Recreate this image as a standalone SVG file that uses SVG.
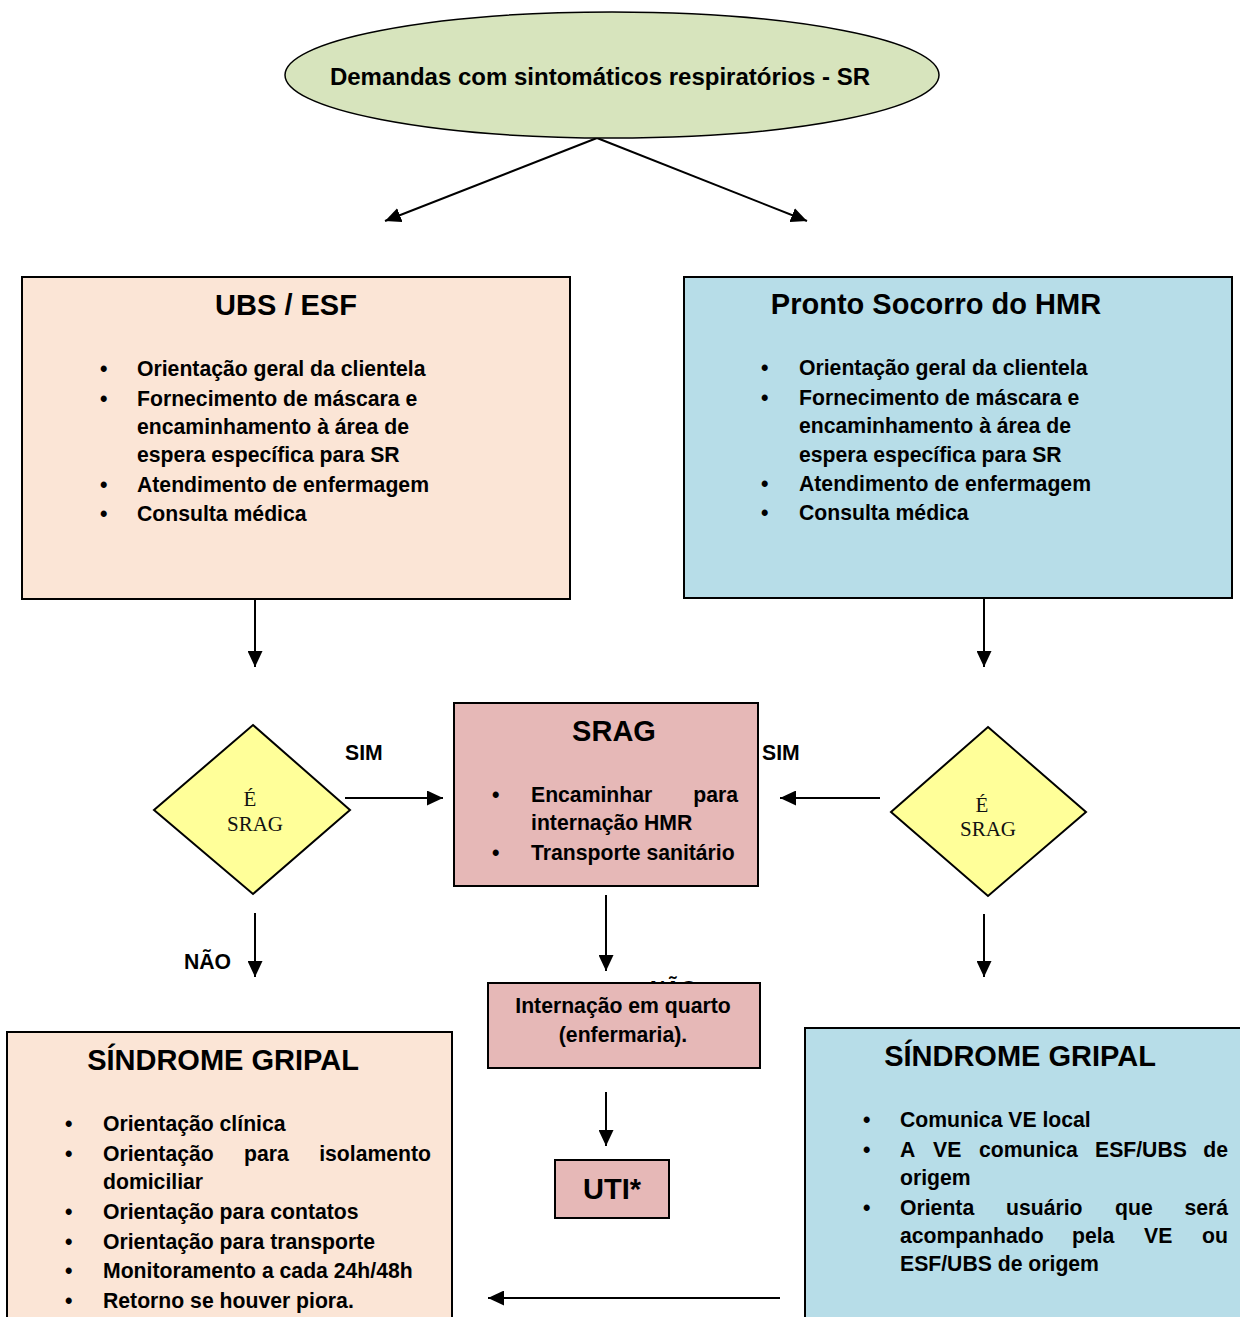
<svg xmlns="http://www.w3.org/2000/svg" width="1240" height="1317" viewBox="0 0 1240 1317">
<defs>
<marker id="ah" viewBox="0 0 16 15" refX="16" refY="7.5" markerWidth="16" markerHeight="15" markerUnits="userSpaceOnUse" orient="auto">
<path d="M0,0 L16,7.5 L0,15 z" fill="#000"/>
</marker>
<clipPath id="cliptop"><rect x="0" y="0" width="1240" height="983"/></clipPath>
<style>
.t{font-family:"Liberation Sans",Arial,sans-serif;font-weight:bold;fill:#000}
.ti{font-size:29px;text-anchor:middle}
.b{font-size:21.2px}
.s{font-family:"Liberation Serif","Times New Roman",serif;font-size:21px;fill:#111;text-anchor:middle}
.box{stroke:#000;stroke-width:2}
.c line{stroke:#000;stroke-width:2;marker-end:url(#ah)}
.e{text-anchor:end}
</style>
</defs>
<rect width="1240" height="1317" fill="#fff"/>

<g id="connectors" class="c">
<line x1="597" y1="138" x2="385" y2="221"/>
<line x1="597" y1="138" x2="807" y2="221"/>
<line x1="255" y1="599" x2="255" y2="667"/>
<line x1="984" y1="598" x2="984" y2="667"/>
<line x1="345" y1="798" x2="443" y2="798"/>
<line x1="880" y1="798" x2="780" y2="798"/>
<line x1="255" y1="913" x2="255" y2="977"/>
<line x1="606" y1="895" x2="606" y2="971"/>
<line x1="984" y1="914" x2="984" y2="977"/>
<line x1="606" y1="1092" x2="606" y2="1146"/>
<line x1="780" y1="1298" x2="488" y2="1298"/>
<text class="t b" x="345" y="760">SIM</text>
<text class="t b" x="762" y="760">SIM</text>
<text class="t b" x="184" y="969">NÃO</text>
<text class="t b" x="650" y="996" clip-path="url(#cliptop)">NÃO</text>
</g>

<g id="inicio">
<ellipse cx="612" cy="75" rx="327" ry="63" fill="#d7e4bd" stroke="#000" stroke-width="1.5"/>
<text class="t" x="600" y="85" font-size="24" text-anchor="middle">Demandas com sintomáticos respiratórios - SR</text>
</g>

<g id="ubs">
<rect class="box" x="22" y="277" width="548" height="322" fill="#fbe5d6"/>
<text class="t ti" x="286" y="315">UBS / ESF</text>
<g class="t b">
<text x="100" y="376">•</text><text x="137" y="376">Orientação geral da clientela</text>
<text x="100" y="406">•</text><text x="137" y="406">Fornecimento de máscara e</text>
<text x="137" y="434">encaminhamento à área de</text>
<text x="137" y="462">espera específica para SR</text>
<text x="100" y="492">•</text><text x="137" y="492">Atendimento de enfermagem</text>
<text x="100" y="521">•</text><text x="137" y="521">Consulta médica</text>
</g>
</g>

<g id="pronto-socorro">
<rect class="box" x="684" y="277" width="548" height="321" fill="#b7dde8"/>
<text class="t ti" x="936" y="314">Pronto Socorro do HMR</text>
<g class="t b">
<text x="761" y="375">•</text><text x="799" y="375">Orientação geral da clientela</text>
<text x="761" y="405">•</text><text x="799" y="405">Fornecimento de máscara e</text>
<text x="799" y="433">encaminhamento à área de</text>
<text x="799" y="462">espera específica para SR</text>
<text x="761" y="491">•</text><text x="799" y="491">Atendimento de enfermagem</text>
<text x="761" y="520">•</text><text x="799" y="520">Consulta médica</text>
</g>
</g>

<g id="decisao-esq">
<polygon class="box" points="253,725 350,810 253,894 154,810" fill="#ffff99" stroke-width="1.5"/>
<text class="s" x="250" y="806">É</text>
<text class="s" x="255" y="831">SRAG</text>
</g>

<g id="decisao-dir">
<polygon class="box" points="988,727 1086,812 988,896 891,812" fill="#ffff99" stroke-width="1.5"/>
<text class="s" x="982" y="812">É</text>
<text class="s" x="988" y="836">SRAG</text>
</g>

<g id="srag">
<rect class="box" x="454" y="703" width="304" height="183" fill="#e6b8b7"/>
<text class="t ti" x="614" y="741">SRAG</text>
<g class="t b">
<text x="492" y="802">•</text><text x="531" y="802">Encaminhar</text><text class="e" x="738" y="802">para</text>
<text x="531" y="830">internação HMR</text>
<text x="492" y="860">•</text><text x="531" y="860">Transporte sanitário</text>
</g>
</g>

<g id="internacao">
<rect class="box" x="488" y="983" width="272" height="85" fill="#e6b8b7"/>
<text class="t b" x="623" y="1013" text-anchor="middle">Internação em quarto</text>
<text class="t b" x="623" y="1042" text-anchor="middle">(enfermaria).</text>
</g>

<g id="uti">
<rect class="box" x="555" y="1160" width="114" height="58" fill="#e6b8b7"/>
<text class="t ti" x="612" y="1199">UTI*</text>
</g>

<g id="sg-esq">
<rect class="box" x="7" y="1032" width="445" height="300" fill="#fbe5d6"/>
<text class="t ti" x="223" y="1070">SÍNDROME GRIPAL</text>
<g class="t b">
<text x="65" y="1131">•</text><text x="103" y="1131">Orientação clínica</text>
<text x="65" y="1161">•</text><text x="103" y="1161">Orientação</text><text x="244" y="1161">para</text><text class="e" x="431" y="1161">isolamento</text>
<text x="103" y="1189">domiciliar</text>
<text x="65" y="1219">•</text><text x="103" y="1219">Orientação para contatos</text>
<text x="65" y="1249">•</text><text x="103" y="1249">Orientação para transporte</text>
<text x="65" y="1278">•</text><text x="103" y="1278">Monitoramento a cada 24h/48h</text>
<text x="65" y="1308">•</text><text x="103" y="1308">Retorno se houver piora.</text>
</g>
</g>

<g id="sg-dir">
<rect class="box" x="805" y="1028" width="450" height="300" fill="#b7dde8"/>
<text class="t ti" x="1020" y="1066">SÍNDROME GRIPAL</text>
<g class="t b">
<text x="863" y="1127">•</text><text x="900" y="1127">Comunica VE local</text>
<text x="863" y="1157">•</text><text x="900" y="1157">A</text><text x="933" y="1157">VE</text><text x="979" y="1157">comunica</text><text x="1095" y="1157">ESF/UBS</text><text class="e" x="1228" y="1157">de</text>
<text x="900" y="1185">origem</text>
<text x="863" y="1215">•</text><text x="900" y="1215">Orienta</text><text x="1006" y="1215">usuário</text><text x="1115" y="1215">que</text><text class="e" x="1228" y="1215">será</text>
<text x="900" y="1243">acompanhado</text><text x="1072" y="1243">pela</text><text x="1144" y="1243">VE</text><text class="e" x="1228" y="1243">ou</text>
<text x="900" y="1271">ESF/UBS de origem</text>
</g>
</g>
</svg>
